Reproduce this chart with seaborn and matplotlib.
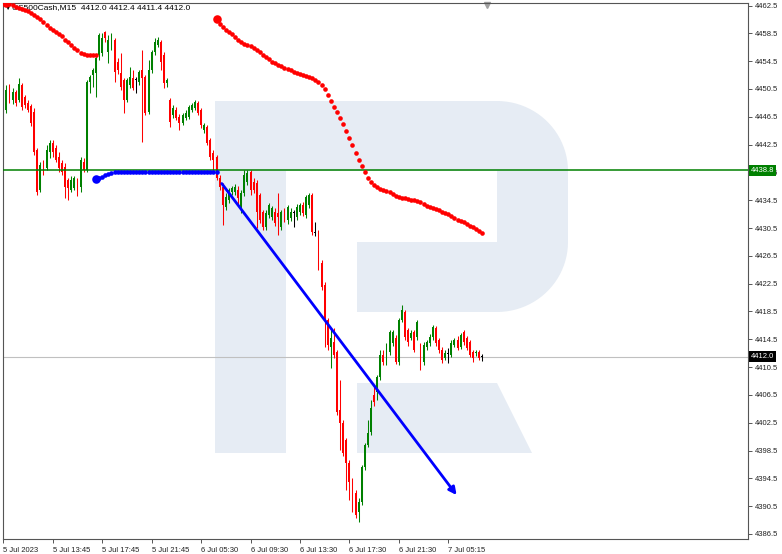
import numpy as np
import pandas as pd
import matplotlib
matplotlib.use("Agg")
import matplotlib.pyplot as plt
from matplotlib.patches import Polygon
from matplotlib.transforms import blended_transform_factory
import seaborn as sns

# US500Cash M15, una fila por vela (5 Jul 09:45 -> 7 Jul 06:00)
opens = [4451.8, 4447.5, 4450.6, 4448.9, 4450.1, 4448.9, 4451.1, 4449.3, 4448.5, 4448.0,
         4447.2, 4441.7, 4436.0, 4439.6, 4439.1, 4441.4, 4442.7, 4442.0, 4440.7, 4439.9,
         4439.3, 4437.4, 4436.0, 4436.3, 4437.4, 4436.4, 4440.0, 4438.8, 4451.5, 4452.5,
         4452.8, 4455.4, 4455.7, 4458.7, 4455.8, 4456.8, 4457.5, 4454.4, 4452.8, 4451.8,
         4448.9, 4451.1, 4452.1, 4451.8, 4451.5, 4453.2, 4452.2, 4447.2, 4453.2, 4455.8,
         4456.8, 4457.3, 4455.4, 4451.4, 4448.9, 4446.8, 4447.5, 4446.5, 4445.6, 4446.3,
         4446.5, 4447.5, 4447.8, 4448.5, 4447.5, 4444.6, 4445.0, 4443.2, 4441.3, 4440.7,
         4437.7, 4436.4, 4433.5, 4434.5, 4435.7, 4435.7, 4436.0, 4433.4, 4435.5, 4437.1,
         4438.6, 4437.1, 4437.0, 4435.3, 4432.8, 4430.6, 4432.4, 4432.1, 4432.8, 4432.7,
         4430.6, 4432.8, 4431.6, 4431.9, 4432.7, 4432.1, 4432.8, 4433.8, 4432.4, 4433.8,
         4435.2, 4429.9, 4429.9, 4425.5, 4422.3, 4417.3, 4413.4, 4414.1, 4412.7, 4404.3,
         4402.5, 4400.0, 4396.7, 4394.0, 4392.4, 4389.7, 4391.1, 4396.1, 4399.3, 4401.2,
         4406.5, 4406.9, 4409.1, 4412.2, 4411.2, 4412.7, 4414.0, 4414.7, 4411.2, 4417.3,
         4418.4, 4415.8, 4414.7, 4415.6, 4414.8, 4413.7, 4411.2, 4413.4, 4414.0, 4414.8,
         4416.1, 4414.4, 4413.0, 4411.8, 4412.5, 4412.2, 4413.7, 4414.4, 4413.4, 4415.6,
         4414.7, 4414.1, 4412.7, 4412.5, 4412.7, 4412.0]
highs = [4452.1, 4451.1, 4451.2, 4450.6, 4450.4, 4452.1, 4451.4, 4449.6, 4448.9, 4448.3,
         4447.8, 4442.0, 4440.0, 4440.3, 4442.4, 4443.2, 4443.2, 4442.4, 4441.4, 4440.3,
         4439.9, 4437.7, 4438.0, 4438.0, 4437.7, 4440.7, 4440.6, 4451.8, 4452.5, 4453.5,
         4455.4, 4458.5, 4458.5, 4458.8, 4458.3, 4458.5, 4457.8, 4455.0, 4455.7, 4452.1,
         4452.1, 4453.7, 4453.2, 4452.2, 4453.2, 4456.1, 4452.5, 4454.7, 4456.1, 4457.8,
         4458.0, 4457.5, 4455.8, 4452.1, 4449.2, 4448.2, 4447.9, 4446.9, 4447.0, 4447.5,
         4448.2, 4448.5, 4448.9, 4448.8, 4447.8, 4445.6, 4445.3, 4443.5, 4441.7, 4441.0,
         4438.1, 4437.0, 4435.5, 4436.3, 4436.5, 4436.8, 4436.5, 4436.0, 4438.8, 4438.8,
         4438.8, 4437.7, 4437.4, 4435.5, 4433.1, 4433.1, 4434.1, 4433.7, 4433.4, 4435.5,
         4433.1, 4433.4, 4433.8, 4433.4, 4433.1, 4434.0, 4434.1, 4434.2, 4435.2, 4435.5,
         4435.5, 4431.4, 4430.2, 4425.9, 4422.7, 4417.6, 4415.8, 4416.1, 4413.0, 4408.7,
         4402.9, 4400.3, 4397.1, 4394.6, 4392.8, 4391.7, 4396.4, 4399.6, 4402.9, 4405.8,
         4407.9, 4409.4, 4413.0, 4413.0, 4414.0, 4415.8, 4415.8, 4415.1, 4417.6, 4419.4,
         4418.7, 4416.1, 4415.8, 4415.8, 4417.3, 4414.0, 4414.1, 4414.4, 4415.3, 4416.6,
         4416.4, 4414.7, 4413.4, 4413.0, 4413.3, 4414.4, 4414.7, 4415.0, 4415.4, 4415.8,
         4415.0, 4414.4, 4413.0, 4413.0, 4413.0, 4412.4]
lows = [4447.5, 4447.0, 4448.5, 4448.3, 4448.0, 4448.6, 4447.5, 4447.8, 4447.2, 4445.2,
        4441.0, 4435.2, 4435.7, 4438.1, 4438.8, 4440.6, 4440.7, 4440.0, 4438.6, 4438.1,
        4434.8, 4434.5, 4435.7, 4436.0, 4435.1, 4435.7, 4438.6, 4438.6, 4449.9, 4450.8,
        4449.3, 4454.7, 4455.2, 4457.3, 4454.2, 4456.1, 4451.5, 4452.6, 4450.4, 4447.0,
        4448.6, 4450.6, 4450.4, 4449.9, 4451.1, 4442.9, 4446.8, 4446.9, 4452.8, 4455.4,
        4456.5, 4453.2, 4450.6, 4450.8, 4445.0, 4446.3, 4446.0, 4444.6, 4445.3, 4446.0,
        4446.2, 4447.2, 4447.5, 4446.8, 4444.9, 4444.2, 4442.4, 4440.3, 4438.8, 4437.4,
        4436.0, 4430.9, 4433.1, 4434.1, 4435.3, 4435.3, 4433.8, 4432.7, 4435.1, 4436.7,
        4435.3, 4435.5, 4430.5, 4431.2, 4430.2, 4430.2, 4431.9, 4431.6, 4430.8, 4429.5,
        4430.2, 4431.4, 4431.1, 4431.5, 4430.6, 4431.6, 4432.4, 4432.2, 4431.9, 4433.4,
        4429.5, 4429.4, 4424.5, 4421.6, 4413.4, 4413.0, 4410.4, 4411.8, 4403.6, 4398.6,
        4397.7, 4392.8, 4391.4, 4389.7, 4388.8, 4388.2, 4390.7, 4395.7, 4399.0, 4400.7,
        4404.9, 4405.8, 4408.7, 4410.8, 4410.8, 4412.2, 4413.5, 4410.9, 4410.8, 4417.0,
        4414.4, 4413.5, 4414.4, 4412.7, 4414.4, 4410.1, 4410.8, 4413.0, 4413.5, 4414.4,
        4413.5, 4412.5, 4411.1, 4411.5, 4411.1, 4412.0, 4413.4, 4413.0, 4413.1, 4413.7,
        4413.0, 4412.0, 4411.2, 4412.1, 4411.5, 4411.4]
closes = [4447.9, 4450.4, 4448.9, 4450.1, 4448.5, 4451.2, 4447.9, 4448.2, 4447.5, 4445.6,
          4441.4, 4435.7, 4439.6, 4438.8, 4441.7, 4442.7, 4441.4, 4440.3, 4439.1, 4438.6,
          4436.4, 4436.3, 4437.4, 4437.7, 4436.0, 4440.3, 4438.8, 4451.5, 4452.2, 4453.2,
          4455.0, 4458.3, 4457.8, 4457.8, 4457.5, 4458.3, 4452.9, 4453.2, 4450.8, 4448.9,
          4451.8, 4452.2, 4450.6, 4451.8, 4452.9, 4452.1, 4447.0, 4453.2, 4455.8, 4457.3,
          4457.5, 4454.4, 4451.4, 4451.8, 4445.8, 4447.8, 4446.3, 4445.6, 4446.8, 4447.0,
          4447.9, 4448.2, 4448.6, 4447.0, 4445.3, 4445.3, 4442.7, 4440.7, 4440.3, 4437.7,
          4436.4, 4433.8, 4435.0, 4436.0, 4436.3, 4436.4, 4434.8, 4435.5, 4438.1, 4438.4,
          4436.0, 4436.0, 4432.8, 4431.6, 4430.6, 4432.7, 4433.8, 4433.4, 4431.2, 4432.1,
          4432.8, 4431.9, 4433.5, 4432.8, 4432.7, 4433.5, 4433.8, 4432.7, 4435.0, 4435.2,
          4429.9, 4429.9, 4424.9, 4422.0, 4417.3, 4413.7, 4414.7, 4412.2, 4404.0, 4402.5,
          4398.1, 4396.7, 4394.0, 4390.0, 4389.2, 4391.1, 4396.1, 4399.3, 4401.0, 4404.6,
          4405.5, 4409.1, 4412.2, 4411.2, 4413.7, 4415.6, 4415.6, 4411.2, 4417.3, 4418.7,
          4414.8, 4414.1, 4415.4, 4413.0, 4417.0, 4411.1, 4413.7, 4414.1, 4414.8, 4416.3,
          4414.0, 4413.0, 4411.5, 4412.5, 4412.5, 4414.0, 4414.4, 4413.3, 4415.1, 4414.1,
          4413.3, 4412.2, 4411.8, 4412.7, 4411.8, 4412.0]

etiquetas_tiempo = ["5 Jul 2023", "5 Jul 13:45", "5 Jul 17:45", "5 Jul 21:45", "6 Jul 05:30",
                    "6 Jul 09:30", "6 Jul 13:30", "6 Jul 17:30", "6 Jul 21:30", "7 Jul 05:15"]
PASO_ETIQUETAS = 16

ticks_precio = [4386.5, 4390.5, 4394.5, 4398.5, 4402.5, 4406.5, 4410.5, 4414.5, 4418.5, 4422.5,
                4426.5, 4430.5, 4434.5, 4438.5, 4442.5, 4446.5, 4450.5, 4454.5, 4458.5, 4462.5]

# lineas de puntos rojas (una por vela)
rojo1_inicio = 1
rojo1 = [4462.9, 4462.7, 4462.6, 4462.3, 4462.1, 4462.0, 4461.9, 4461.7, 4461.4, 4461.1,
         4460.9, 4460.6, 4460.1, 4459.7, 4459.3, 4459.0, 4458.7, 4458.4, 4458.1, 4457.5,
         4457.3, 4456.8, 4456.4, 4456.1, 4455.7, 4455.5, 4455.4, 4455.4, 4455.4, 4455.4]
rojo2_inicio = 69
rojo2 = [4460.6, 4459.8, 4459.4, 4459.0, 4458.7, 4458.4, 4458.0, 4457.5, 4457.3, 4457.0,
         4456.8, 4456.7, 4456.4, 4456.1, 4455.8, 4455.4, 4455.1, 4454.8, 4454.4, 4454.2,
         4453.9, 4453.8, 4453.5, 4453.4, 4453.2, 4452.9, 4452.8, 4452.7, 4452.5, 4452.4,
         4452.2, 4452.1, 4451.8, 4451.5, 4451.1, 4450.5, 4449.6, 4448.8, 4447.9, 4447.2,
         4446.3, 4445.5, 4444.5, 4443.5, 4442.4, 4441.3, 4440.3, 4439.4, 4438.6, 4437.7,
         4437.1, 4436.7, 4436.4, 4436.1, 4436.0, 4435.8, 4435.7, 4435.4, 4435.1, 4435.0,
         4434.8, 4434.8, 4434.7, 4434.5, 4434.5, 4434.4, 4434.2, 4434.0, 4433.7, 4433.5,
         4433.4, 4433.2, 4433.1, 4432.8, 4432.7, 4432.5, 4432.2, 4431.9, 4431.7, 4431.5,
         4431.4, 4431.1, 4430.8, 4430.7, 4430.4, 4430.1, 4429.8]
# linea azul
azul_inicio = 30
azul = [4437.6, 4437.7, 4437.8, 4438.1, 4438.3, 4438.4, 4438.5, 4438.5, 4438.5, 4438.5,
        4438.5, 4438.5, 4438.5, 4438.5, 4438.5, 4438.5, 4438.5, 4438.5, 4438.5, 4438.5,
        4438.5, 4438.5, 4438.5, 4438.5, 4438.5, 4438.5, 4438.5, 4438.5, 4438.5, 4438.5,
        4438.5, 4438.5, 4438.5, 4438.5, 4438.5, 4438.5, 4438.5, 4438.5, 4438.5, 4438.5]

flecha_barras = [70.7, 146.7]
flecha_precios = [4436.9, 4392.1]

NIVEL = 4438.8
ULTIMO = 4412.0
CABECERA = "US500Cash,M15  4412.0 4412.4 4411.4 4412.0"

# CONFIGURACION (pixeles de la imagen)
ANCHO, ALTO = 782, 554
IZQ, DER, ARR, ABA = 3, 748, 3, 539
VERDE = "#008000"
ROJO = "#ff0000"
LOGO = "#e6ecf4"


def px(x, y):
    # pixel de la imagen -> fraccion de ejes
    return ((x - IZQ) / (DER - IZQ), (ABA - y) / (ABA - ARR))


def dibujar_logo(ax):
    piezas = []
    piezas.append([(215, 101), (286, 101), (286, 453), (215, 453)])
    piezas.append([(215, 101), (500, 101), (500, 171), (215, 171)])
    piezas.append([(357, 242), (500, 242), (500, 312), (357, 312)])
    arco1 = [(497 + 71 * np.cos(a), 171 - 70 * np.sin(a)) for a in np.linspace(np.pi / 2, 0, 24)]
    arco2 = [(497 + 71 * np.cos(a), 242 - 70 * np.sin(a)) for a in np.linspace(0, -np.pi / 2, 24)]
    piezas.append(arco1 + arco2)
    piezas.append([(357, 383), (497, 383), (532, 453), (357, 453)])
    for p in piezas:
        ax.add_patch(Polygon([px(x, y) for x, y in p], closed=True, transform=ax.transAxes,
                             facecolor=LOGO, edgecolor="none", zorder=0))


def graficar():
    sns.set_theme(style="white")
    plt.rcParams["font.family"] = ["Liberation Sans", "DejaVu Sans"]

    fig = plt.figure(figsize=(ANCHO / 100, ALTO / 100), dpi=100)
    ax = fig.add_axes([IZQ / ANCHO, (ALTO - ABA) / ALTO, (DER - IZQ) / ANCHO, (ABA - ARR) / ALTO])
    ax.set_facecolor("white")

    df = pd.DataFrame({"o": opens, "h": highs, "l": lows, "c": closes})
    df["barra"] = np.arange(len(df))

    # escala: 1 barra ~ 3.09 px, 1 punto ~ 6.95 px
    ax.set_xlim(-0.1, 241.0)
    ax.set_ylim(4385.78, 4462.86)

    dibujar_logo(ax)

    colores = np.where(df.c > df.o, VERDE, np.where(df.c < df.o, ROJO, "#000000"))
    ax.vlines(df.barra, df.l, df.h, colors=colores, lw=0.75, zorder=2)
    cuerpo = np.maximum((df.c - df.o).abs(), 0.12)
    base = np.minimum(df.o, df.c) - np.where(df.c == df.o, 0.06, 0)
    ax.bar(df.barra, cuerpo, bottom=base, width=0.62, color=colores, linewidth=0, zorder=2)

    ax.axhline(ULTIMO, color="#c0c0c0", lw=0.8, zorder=1)
    ax.axhline(NIVEL, color=VERDE, lw=1.1, zorder=2.6)

    ax.annotate("", xy=(flecha_barras[1], flecha_precios[1]),
                xytext=(flecha_barras[0], flecha_precios[0]),
                arrowprops=dict(arrowstyle="-|>", color="#0000ff", lw=2.0,
                                mutation_scale=11, shrinkA=0, shrinkB=0), zorder=3)

    # lineas de puntos
    for inicio, serie, color in [(rojo1_inicio, rojo1, ROJO), (rojo2_inicio, rojo2, ROJO),
                                 (azul_inicio, azul, "#0000ff")]:
        xs = np.arange(inicio, inicio + len(serie))
        sns.scatterplot(x=xs, y=serie, color=color, s=11, linewidth=0, ax=ax, zorder=4)
        sns.scatterplot(x=[inicio], y=[serie[0]], color=color, s=38, linewidth=0, ax=ax, zorder=4)

    # cabecera
    ax.text(*px(5, 8), "▼", transform=ax.transAxes, fontsize=4.5, color="black",
            ha="left", va="center", zorder=3)
    ax.text(*px(12, 8), CABECERA, transform=ax.transAxes, fontsize=6, color="black",
            ha="left", va="center", zorder=3)
    ax.plot(*px(487, 5), marker="v", color="#a0a0a0", markersize=4,
            transform=ax.transAxes, clip_on=False)

    # ejes
    ax.yaxis.tick_right()
    ax.set_yticks(ticks_precio)
    ax.set_yticklabels([f"{t:.1f}" for t in ticks_precio])
    ax.set_xticks(np.arange(len(etiquetas_tiempo)) * PASO_ETIQUETAS)
    ax.set_xticklabels(etiquetas_tiempo)
    for lab in ax.get_xticklabels():
        lab.set_horizontalalignment("left")
    ax.tick_params(axis="both", which="both", direction="out", length=3, width=0.7,
                   color="#555555", labelsize=5.5, labelcolor="#222222", pad=2)
    ax.tick_params(axis="y", right=True, left=False)
    ax.tick_params(axis="x", bottom=True, pad=3)
    for s in ax.spines.values():
        s.set_color("#555555")
        s.set_linewidth(0.8)
    ax.set_xlabel("")
    ax.set_ylabel("")
    ax.grid(False)

    # etiquetas de precio en el eje
    trans = blended_transform_factory(ax.transAxes, ax.transData)
    ax.text(1.004, NIVEL, f"{NIVEL:.1f}", transform=trans, fontsize=5.5, color="white",
            ha="left", va="center", zorder=5,
            bbox=dict(boxstyle="square,pad=0.25", facecolor=VERDE, edgecolor="none"))
    ax.text(1.004, ULTIMO, f"{ULTIMO:.1f}", transform=trans, fontsize=5.5, color="white",
            ha="left", va="center", zorder=5,
            bbox=dict(boxstyle="square,pad=0.25", facecolor="black", edgecolor="none"))

    fig.savefig("out.png", dpi=100)


if __name__ == "__main__":
    graficar()
